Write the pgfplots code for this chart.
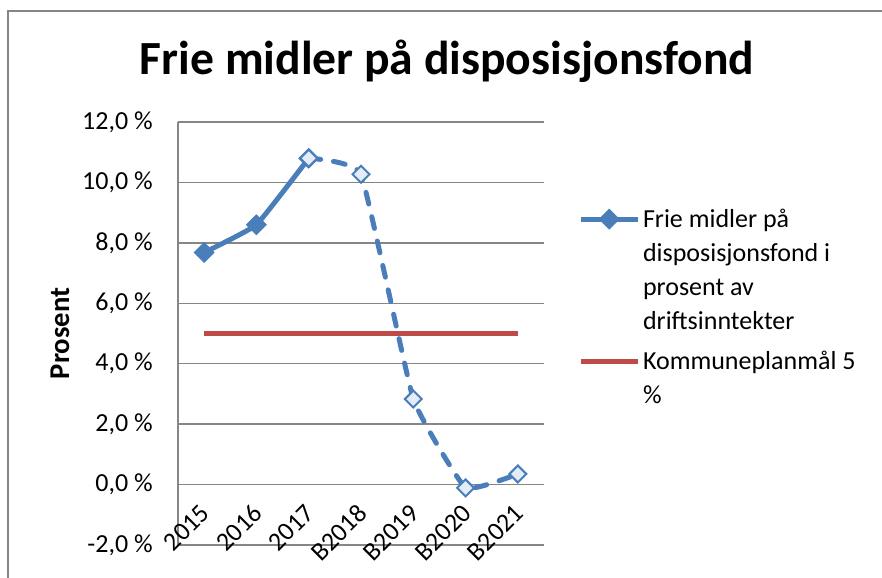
\documentclass[border=0pt]{standalone}
\usepackage{fontspec}
\setmainfont{Carlito}
\usepackage{pgfplots}
\pgfplotsset{compat=1.18}
\definecolor{serblue}{HTML}{4A7EBB}
\definecolor{serred}{HTML}{BE4B48}
\definecolor{gridgray}{HTML}{868686}
\definecolor{lightfill}{HTML}{E4ECF6}
\begin{document}
\begin{tikzpicture}
\useasboundingbox (0pt,0pt) rectangle (661.5pt,433.5pt);
\draw[gridgray, line width=1.2pt] (6pt,0pt) -- (6pt,425.25pt) -- (661.5pt,425.25pt);
\node[font=\bfseries\fontsize{35.7}{42}\selectfont, anchor=base, inner sep=0pt] at (335.25pt,377.25pt) {Frie midler på disposisjonsfond};
\begin{axis}[
  at={(133.5pt,24.75pt)}, anchor=south west,
  scale only axis, width=274.5pt, height=317.25pt,
  xmin=-0.5, xmax=6.5, ymin=-2, ymax=12,
  xtick={0,1,2,3,4,5,6},
  xticklabels={2015,2016,2017,B2018,B2019,B2020,B2021},
  ytick={-2,0,2,4,6,8,10,12},
  yticklabels={{-2,0 \%},{0,0 \%},{2,0 \%},{4,0 \%},{6,0 \%},{8,0 \%},{10,0 \%},{12,0 \%}},
  axis lines*=left,
  axis line style={gridgray, line width=1.1pt},
  major tick length=0pt,
  ymajorgrids, grid style={gridgray, line width=1.1pt},
  yticklabel style={font=\fontsize{19.5}{23}\selectfont, anchor=east, inner sep=0pt, xshift=-18.75pt},
  xticklabel style={font=\fontsize{19.5}{23}\selectfont, rotate=45, anchor=east, inner sep=0pt, xshift=1.5pt},
  xticklabel shift=-26pt,
  ylabel={Prosent},
  ylabel style={font=\bfseries\fontsize{21.5}{25}\selectfont, at={(axis description cs:-0.3224,0.5)}, anchor=center},
  clip=false,
  legend style={draw=none, fill=none, at={(1.093,0.80)}, anchor=north west,
    inner sep=0pt, outer sep=0pt, row sep=13pt, column sep=2pt,
    font=\fontsize{19.5}{25.5}\selectfont,
    nodes={inner sep=0pt},
    cells={anchor=north west, align=left}},
  legend image code/.code={\path (0pt,0pt) (43pt,0pt);
    \draw[mark repeat=2, mark phase=2, #1] plot coordinates {(0pt,-7.5pt) (21.5pt,-7.5pt) (43pt,-7.5pt)};},
]
\addplot[serblue, line width=3.75pt, smooth, tension=0.2, mark=square*, mark size=5.3pt,
  mark options={rotate=45, solid, fill=serblue, draw=serblue, line width=0.5pt}]
  coordinates {(0,7.68) (1,8.60) (2,10.80)};
\addlegendentry{Frie midler på\\disposisjonsfond i\\prosent av\\driftsinntekter}
\addplot[serblue, line width=3.75pt, dash pattern=on 9pt off 9.75pt, line cap=round, smooth, tension=0.2,
  mark=square*, mark size=4.5pt,
  mark options={rotate=45, solid, fill=lightfill, draw=serblue, line width=1.5pt}, forget plot]
  coordinates {(2,10.80) (3,10.27) (4,2.83) (5,-0.11) (6,0.35)};
\addplot[serred, line width=3.75pt, no marks] coordinates {(0,5) (6,5)};
\addlegendentry{Kommuneplanmål 5\\\%}
\end{axis}
\end{tikzpicture}
\end{document}
